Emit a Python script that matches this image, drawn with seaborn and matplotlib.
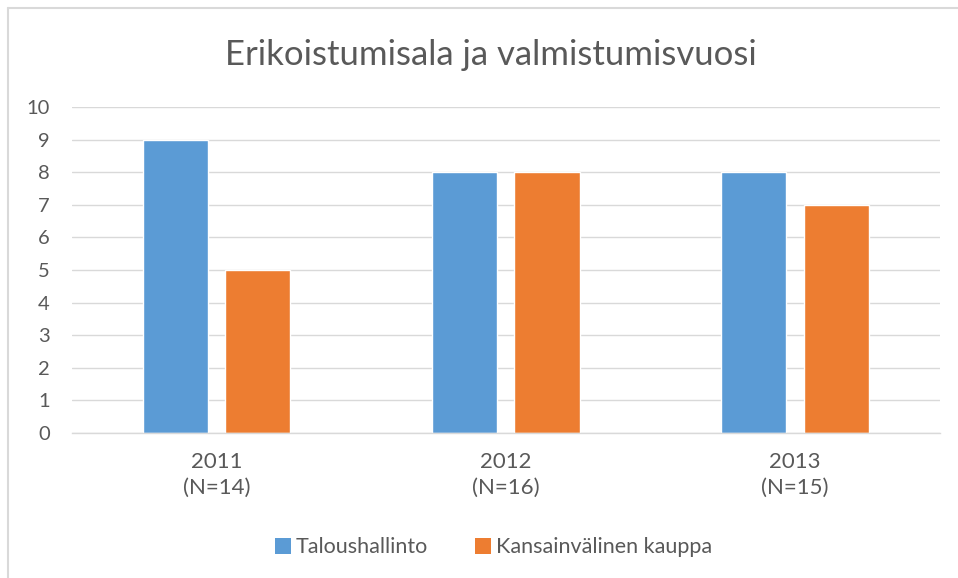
import matplotlib
matplotlib.use("Agg")
import matplotlib.pyplot as plt
import seaborn as sns
import pandas as pd
from matplotlib.patches import Patch
from matplotlib.lines import Line2D

categories = ["2011\n(N=14)", "2012\n(N=16)", "2013\n(N=15)"]
series_names = ["Taloushallinto", "Kansainvälinen kauppa"]
talous = [9, 8, 8]
kauppa = [5, 8, 7]
title = "Erikoistumisala ja valmistumisvuosi"
colors = ["#5B9BD5", "#ED7D31"]

df = pd.DataFrame({
    "cat": categories * 2,
    "series": [series_names[0]] * 3 + [series_names[1]] * 3,
    "value": talous + kauppa,
})

sns.set_theme(style="white")
plt.rcParams["font.family"] = ["Lato", "DejaVu Sans"]
text_color = "#595959"

fig = plt.figure(figsize=(9.58, 5.78), dpi=100)
ax = fig.add_axes([0.075, 0.251, 0.906, 0.564])
sns.barplot(data=df, x="cat", y="value", hue="series", palette=colors,
            width=0.57, gap=0.21, ax=ax, legend=False, saturation=1)

ax.set_ylim(0, 10)
ax.set_yticks(range(0, 11))
ax.yaxis.grid(True, color="#D9D9D9", linewidth=1)
ax.set_axisbelow(True)
for s in ["top", "right", "left"]:
    ax.spines[s].set_visible(False)
ax.spines["bottom"].set_color("#D9D9D9")
ax.spines["bottom"].set_linewidth(1)
ax.set_xlabel("")
ax.set_ylabel("")
ax.tick_params(axis="both", length=0, colors=text_color)
ax.tick_params(axis="y", pad=16, labelsize=14.5)
ax.tick_params(axis="x", pad=14, labelsize=16)
for lbl in ax.get_xticklabels():
    lbl.set_linespacing(1.35)

fig.text(0.512, 0.905, title, ha="center", va="center", fontsize=25, color=text_color)

handles = [Patch(facecolor=c, edgecolor="none") for c in colors]
fig.legend(handles, series_names, loc="center", bbox_to_anchor=(0.515, 0.053),
           ncol=2, frameon=False, fontsize=15.5, labelcolor=text_color,
           handlelength=0.75, handleheight=0.75, handletextpad=0.2, columnspacing=2.2)

# chart border (top and left edges visible)
fig.add_artist(Line2D([0.008, 1.0], [0.986, 0.986], transform=fig.transFigure, color="#D9D9D9", linewidth=1.5))
fig.add_artist(Line2D([0.008, 0.008], [0.0, 0.986], transform=fig.transFigure, color="#D9D9D9", linewidth=1.5))

fig.savefig("out.png", dpi=100)
